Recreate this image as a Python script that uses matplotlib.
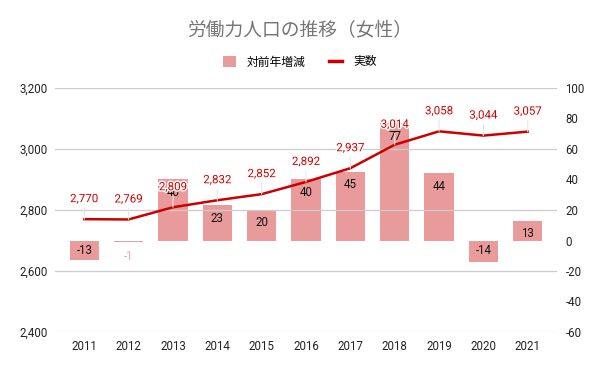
import matplotlib
matplotlib.use("Agg")
import matplotlib.pyplot as plt
import matplotlib.patheffects as pe
from matplotlib.patches import Patch
from matplotlib.lines import Line2D

plt.rcParams['font.family'] = ['Roboto', 'Noto Sans CJK JP', 'DejaVu Sans']

years = ['2011', '2012', '2013', '2014', '2015', '2016', '2017', '2018', '2019', '2020', '2021']
actual = [2770, 2769, 2809, 2832, 2852, 2892, 2937, 3014, 3058, 3044, 3057]
change = [-13, -1, 40, 23, 20, 40, 45, 77, 44, -14, 13]
left_ticks = [2400, 2600, 2800, 3000, 3200]
right_ticks = [-60, -40, -20, 0, 20, 40, 60, 80, 100]

bar_color = '#E99A9A'
line_color = '#CC0000'

fig = plt.figure(figsize=(6.0, 3.71), dpi=100)
ax = fig.add_axes([55/600, 1-332/371, (557-55)/600, (332-88)/371])
ax2 = ax.twinx()

x = list(range(len(years)))

# bars on right axis
ax2.bar(x, change, width=0.66, color=bar_color, zorder=2)
ax2.set_ylim(-60, 100)
ax2.set_yticks(right_ticks)
ax2.set_yticklabels([str(v) for v in right_ticks])

# line on left axis
ax.set_ylim(2400, 3200)
ax.set_yticks(left_ticks)
ax.set_yticklabels([f'{v:,}' for v in left_ticks])
ax.set_xlim(-0.66, 10.66)
ax.set_xticks(x)
ax.set_xticklabels(years)
ax.grid(axis='y', color='#cccccc', lw=0.9)
ax.set_axisbelow(True)

ax2.set_zorder(1)
ax.set_zorder(2)
ax.patch.set_visible(False)
ax.plot(x, actual, color=line_color, lw=1.8, zorder=3)

for a in (ax, ax2):
    for s in a.spines.values():
        s.set_visible(False)
    a.tick_params(length=0, labelsize=8.3, colors='#222222')
ax.tick_params(axis='y', pad=5)
ax2.tick_params(axis='y', pad=6)
ax.tick_params(axis='x', pad=6)

# bar labels
for xi, v in zip(x, change):
    if abs(v) < 5:
        ax2.annotate(str(v), (xi, v), xytext=(0, -8), textcoords='offset pixels',
                     ha='center', va='top', fontsize=8.3, color='#F4A6A6', zorder=5)
    elif v > 0:
        ax2.annotate(str(v), (xi, v), xytext=(0, -13), textcoords='offset pixels',
                     ha='center', va='center', fontsize=8.3, color='#111111', zorder=5)
    else:
        ax2.annotate(str(v), (xi, 0), xytext=(0, -10), textcoords='offset pixels',
                     ha='center', va='center', fontsize=8.3, color='#111111', zorder=5)

# line labels
for xi, v in zip(x, actual):
    ax.annotate(f'{v:,}', (xi, v), xytext=(0, 14), textcoords='offset pixels',
                ha='center', va='bottom', fontsize=8.3, color=line_color, zorder=6,
                path_effects=[pe.withStroke(linewidth=2, foreground='white')],
                arrowprops=dict(arrowstyle='-', color='#e6e6e6', lw=0.8,
                                shrinkA=0, shrinkB=0))

fig.text(0.5, 1-31/371, '労働力人口の推移（女性）', ha='center', va='center',
         fontsize=13.5, color='#757575')

handles = [Patch(facecolor=bar_color, edgecolor='none'),
           Line2D([0], [0], color=line_color, lw=2.5)]
fig.legend(handles, ['対前年増減', '実数'], loc='center', bbox_to_anchor=(0.5, 1-62/371),
           ncol=2, frameon=False, fontsize=8.5, handlelength=1.1, handleheight=1.1,
           columnspacing=2.0, handletextpad=0.9)

fig.savefig('out.png', dpi=100, facecolor='white')
